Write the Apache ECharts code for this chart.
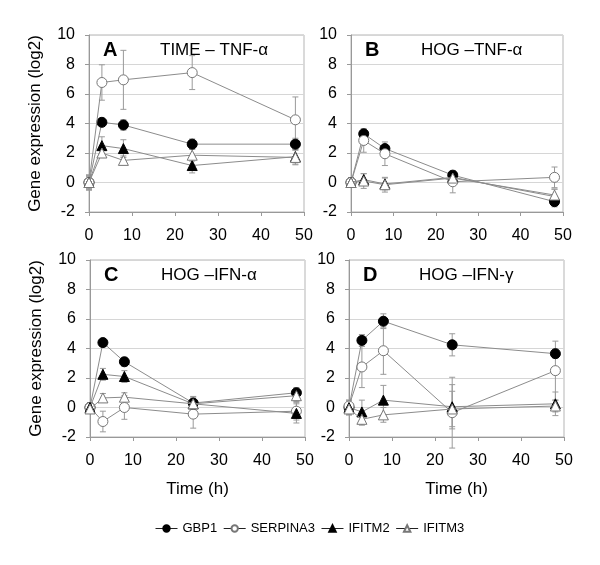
<!DOCTYPE html>
<html>
<head>
<meta charset="utf-8">
<script src="https://cdn.jsdelivr.net/npm/echarts@6/dist/echarts.min.js"></script>
<style>html,body{margin:0;padding:0;background:#fff;}#c{width:600px;height:565px;}</style>
</head>
<body>
<div id="c"></div>
<script>
// ---- data ----
const times = [0, 3, 8, 24, 48];
const genes = ['GBP1', 'SERPINA3', 'IFITM2', 'IFITM3'];
const panelLetters = ['A', 'B', 'C', 'D'];
const panelTitles = ['TIME \u2013 TNF-\u03b1', 'HOG \u2013TNF-\u03b1', 'HOG \u2013IFN-\u03b1', 'HOG \u2013IFN-\u03b3'];
const yTicks = [-2, 0, 2, 4, 6, 8, 10];
const xTicks = [0, 10, 20, 30, 40, 50];

// Panel A
const A_GBP1 = [0, 4.08, 3.9, 2.6, 2.6];
const A_GBP1_err = [0.5, 0.25, 0.35, 0.35, 0.4];
const A_SERPINA3 = [0, 6.78, 6.96, 7.45, 4.25];
const A_SERPINA3_err = [0.5, 1.2, 2.0, 1.15, 1.55];
const A_IFITM2 = [0, 2.5, 2.3, 1.15, 1.75];
const A_IFITM2_err = [0.5, 0.6, 0.6, 0.5, 0.5];
const A_IFITM3 = [0, 2.0, 1.5, 1.85, 1.7];
const A_IFITM3_err = [0.4, 0.3, 0.3, 0.4, 0.5];
// Panel B
const B_GBP1 = [0, 3.3, 2.3, 0.5, -1.3];
const B_GBP1_err = [0.3, 0.2, 0.2, 0.2, 0.35];
const B_SERPINA3 = [0, 2.85, 1.95, 0.05, 0.35];
const B_SERPINA3_err = [0.3, 0.8, 0.8, 0.75, 0.7];
const B_IFITM2 = [0, 0.2, -0.1, 0.35, -0.95];
const B_IFITM2_err = [0.3, 0.4, 0.4, 0.3, 0.5];
const B_IFITM3 = [0, 0.1, -0.15, 0.3, -0.85];
const B_IFITM3_err = [0.3, 0.5, 0.5, 0.3, 0.4];
// Panel C
const C_GBP1 = [0, 4.4, 3.1, 0.3, 1.0];
const C_GBP1_err = [0.3, 0.2, 0.3, 0.4, 0.35];
const C_SERPINA3 = [0, -0.95, 0.0, -0.45, -0.25];
const C_SERPINA3_err = [0.3, 0.7, 0.8, 0.95, 0.6];
const C_IFITM2 = [0, 2.25, 2.1, 0.25, -0.4];
const C_IFITM2_err = [0.3, 0.4, 0.4, 0.5, 0.65];
const C_IFITM3 = [-0.1, 0.65, 0.7, 0.25, 0.8];
const C_IFITM3_err = [0.3, 0.3, 0.3, 0.3, 0.4];
// Panel D
const D_GBP1 = [0, 4.55, 5.85, 4.25, 3.65];
const D_GBP1_err = [0.3, 0.4, 0.5, 0.75, 0.3];
const D_SERPINA3 = [0.1, 2.75, 3.85, -0.35, 2.5];
const D_SERPINA3_err = [0.4, 1.4, 1.6, 2.4, 2.0];
const D_IFITM2 = [0, -0.3, 0.5, 0.05, 0.25];
const D_IFITM2_err = [0.5, 0.8, 1.0, 1.5, 0.8];
const D_IFITM3 = [-0.1, -0.8, -0.5, -0.1, 0.1];
const D_IFITM3_err = [0.4, 0.4, 0.5, 1.2, 0.4];

const panelData = [
  [[A_GBP1, A_GBP1_err], [A_SERPINA3, A_SERPINA3_err], [A_IFITM2, A_IFITM2_err], [A_IFITM3, A_IFITM3_err]],
  [[B_GBP1, B_GBP1_err], [B_SERPINA3, B_SERPINA3_err], [B_IFITM2, B_IFITM2_err], [B_IFITM3, B_IFITM3_err]],
  [[C_GBP1, C_GBP1_err], [C_SERPINA3, C_SERPINA3_err], [C_IFITM2, C_IFITM2_err], [C_IFITM3, C_IFITM3_err]],
  [[D_GBP1, D_GBP1_err], [D_SERPINA3, D_SERPINA3_err], [D_IFITM2, D_IFITM2_err], [D_IFITM3, D_IFITM3_err]]
];

// ---- styles ----
const FONT = "'Liberation Sans', Arial, sans-serif";
const geneStyle = {
  GBP1: { symbol: 'circle', size: 10, fill: '#000', stroke: '#000' },
  SERPINA3: { symbol: 'circle', size: 10, fill: '#fff', stroke: '#777' },
  IFITM2: { symbol: 'triangle', size: 10, fill: '#000', stroke: '#000' },
  IFITM3: { symbol: 'triangle', size: 10, fill: '#fff', stroke: '#777' }
};
const grids = [
  { left: 89, top: 35, width: 215, height: 177 },
  { left: 351, top: 35, width: 212, height: 177 },
  { left: 90, top: 260, width: 215, height: 177 },
  { left: 349, top: 260, width: 215, height: 177 }
];

const xAxes = [], yAxes = [], series = [], titles = [];
grids.forEach((g, i) => {
  g.show = true; g.borderColor = '#b5b5b5'; g.borderWidth = 1; g.backgroundColor = 'transparent';
  const bottomRow = i >= 2;
  xAxes.push({
    type: 'value', gridIndex: i, min: 0, max: 50, interval: 10,
    axisLine: { show: true, onZero: false, lineStyle: { color: '#999' } },
    axisTick: { show: true, length: 4, lineStyle: { color: '#999' } },
    axisLabel: { fontSize: 16, color: '#000', fontFamily: FONT, margin: 16 },
    splitLine: { show: false },
    name: bottomRow ? 'Time (h)' : '', nameLocation: 'middle', nameGap: 44,
    nameTextStyle: { fontSize: 17, color: '#000', fontFamily: FONT }
  });
  const leftCol = i % 2 === 0;
  yAxes.push({
    type: 'value', gridIndex: i, min: -2, max: 10, interval: 2,
    axisLine: { show: true, lineStyle: { color: '#999' } },
    axisTick: { show: true, length: 4, lineStyle: { color: '#999' } },
    axisLabel: { fontSize: 16, color: '#000', fontFamily: FONT, margin: 14 },
    splitLine: { show: true, lineStyle: { color: '#d6d6d6' } },
    name: leftCol ? 'Gene expression (log2)' : '', nameLocation: 'middle', nameGap: 45,
    nameTextStyle: { fontSize: 17, color: '#000', fontFamily: FONT }
  });
  const cy = g.top + 16;
  titles.push({ text: panelLetters[i], left: g.left + 14, top: cy - 11, padding: 0,
    textStyle: { fontSize: 20, fontWeight: 'bold', color: '#000', fontFamily: FONT } });
  titles.push({ text: panelTitles[i], left: g.left + (i % 2 === 0 ? 71 : 70), top: cy - 9, padding: 0,
    textStyle: { fontSize: 17, fontWeight: 'normal', color: '#000', fontFamily: FONT } });

  panelData[i].forEach((pair, gi) => {
    const name = genes[gi];
    const vals = pair[0], errs = pair[1];
    const st = geneStyle[name];
    series.push({
      name: name + ' error', type: 'custom', xAxisIndex: i, yAxisIndex: i, z: 1, clip: false,
      silent: true,
      data: times.map((t, k) => [t, vals[k], errs[k]]),
      renderItem: function (params, api) {
        const x = api.value(0), y = api.value(1), e = api.value(2);
        const top = api.coord([x, y + e]);
        const bot = api.coord([x, y - e]);
        const cap = 3;
        const ls = { stroke: '#9a9a9a', lineWidth: 1 };
        return { type: 'group', children: [
          { type: 'line', shape: { x1: top[0], y1: top[1], x2: bot[0], y2: bot[1] }, style: ls },
          { type: 'line', shape: { x1: top[0] - cap, y1: top[1], x2: top[0] + cap, y2: top[1] }, style: ls },
          { type: 'line', shape: { x1: bot[0] - cap, y1: bot[1], x2: bot[0] + cap, y2: bot[1] }, style: ls }
        ]};
      }
    });
    series.push({
      name: name, type: 'line', xAxisIndex: i, yAxisIndex: i, z: 3 + gi,
      data: times.map((t, k) => [t, vals[k]]),
      symbol: st.symbol, symbolSize: st.size, showAllSymbol: true,
      lineStyle: { color: '#8c8c8c', width: 1 },
      itemStyle: { color: st.fill, borderColor: st.stroke, borderWidth: 1 },
      emphasis: { disabled: true },
      animation: false
    });
  });
});

const chart = echarts.init(document.getElementById('c'), null, { renderer: 'canvas' });
chart.setOption({
  backgroundColor: '#fff',
  animation: false,
  textStyle: { fontFamily: FONT },
  title: titles,
  grid: grids,
  xAxis: xAxes,
  yAxis: yAxes,
  legend: {
    data: genes, left: 155, top: 522, padding: 0, itemWidth: 22, itemHeight: 8, itemGap: 6,
    lineStyle: { color: '#222', width: 1 },
    textStyle: { fontSize: 13, color: '#000', fontFamily: FONT },
    selectedMode: false
  },
  series: series
});
</script>
</body>
</html>
